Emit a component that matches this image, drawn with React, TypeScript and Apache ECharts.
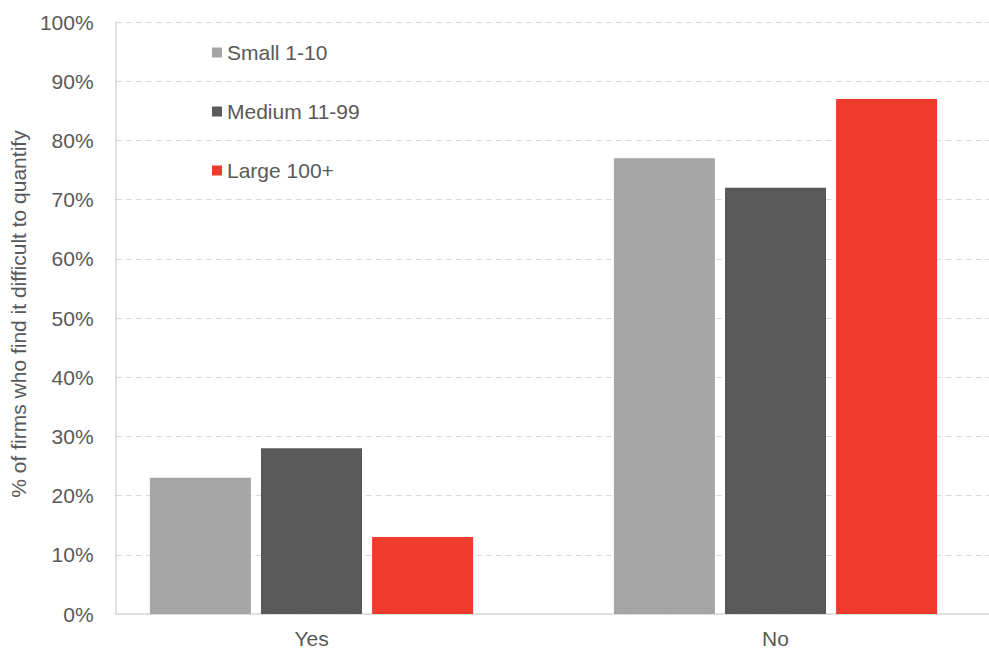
import React, { useEffect, useRef } from "react";
import * as echarts from "echarts";

const categories = ["Yes", "No"];
const seriesNames = ["Small 1-10", "Medium 11-99", "Large 100+"];
const smallFirms = [23, 77];
const mediumFirms = [28, 72];
const largeFirms = [13, 87];
const seriesColors = ["#A5A5A5", "#595959", "#EE3B2B"];
const yTicks = { min: 0, max: 100, interval: 10 };

const FONT = "'Liberation Sans', Arial, sans-serif";
const TEXT = "#595959";
const LINE = "#D9D9D9";

export default function App() {
  const ref = useRef<HTMLDivElement>(null);

  useEffect(() => {
    if (!ref.current) return;
    const chart = echarts.init(ref.current, null, { renderer: "svg" });
    const values = [smallFirms, mediumFirms, largeFirms];

    chart.setOption({
      animation: false,
      backgroundColor: "#ffffff",
      textStyle: { fontFamily: FONT },
      legend: {
        orient: "vertical",
        left: 212,
        top: 42,
        padding: 0,
        itemWidth: 10,
        itemHeight: 10,
        itemGap: 38,
        icon: "rect",
        data: seriesNames,
        textStyle: { color: TEXT, fontSize: 21, lineHeight: 20, fontFamily: FONT },
      },
      grid: [
        // frame: value axis, gridlines and baseline
        { left: 113, right: 0, top: 22, bottom: 38 },
        // bar groups: categories sit on this grid's left and right edges
        { left: 311.5, right: 213.5, top: 22, bottom: 38 },
      ],
      xAxis: [
        {
          gridIndex: 0,
          type: "category",
          data: categories,
          axisLine: { show: true, lineStyle: { color: LINE, width: 1.5 } },
          axisTick: { show: false },
          axisLabel: { show: false },
        },
        {
          gridIndex: 1,
          type: "category",
          data: categories,
          boundaryGap: false,
          axisLine: { show: false },
          axisTick: { show: false },
          axisLabel: { color: TEXT, fontSize: 21, margin: 14, fontFamily: FONT },
        },
      ],
      yAxis: [
        {
          gridIndex: 0,
          type: "value",
          min: yTicks.min,
          max: yTicks.max,
          interval: yTicks.interval,
          name: "% of firms who find it difficult to quantify",
          nameLocation: "middle",
          nameRotate: 90,
          nameGap: 80,
          nameTextStyle: {
            color: TEXT,
            fontSize: 21,
            fontFamily: FONT,
            padding: [0, 0, 0, 8],
          },
          axisLine: { show: true, lineStyle: { color: LINE, width: 1.5 } },
          axisTick: { show: false },
          axisLabel: {
            color: TEXT,
            fontSize: 21,
            margin: 22,
            fontFamily: FONT,
            formatter: "{value}%",
          },
          splitLine: {
            show: true,
            lineStyle: { color: LINE, type: [6, 4], width: 1.2 },
          },
        },
        {
          gridIndex: 1,
          type: "value",
          min: yTicks.min,
          max: yTicks.max,
          show: false,
          splitLine: { show: false },
        },
      ],
      series: seriesNames.map((name, i) => ({
        name,
        type: "bar",
        xAxisIndex: 1,
        yAxisIndex: 1,
        data: values[i],
        clip: false,
        barWidth: 101,
        barGap: "10%",
        itemStyle: { color: seriesColors[i] },
      })),
    });

    return () => chart.dispose();
  }, []);

  return (
    <div
      ref={ref}
      style={{ position: "absolute", left: 0, top: 0, width: 989, height: 652 }}
    />
  );
}
